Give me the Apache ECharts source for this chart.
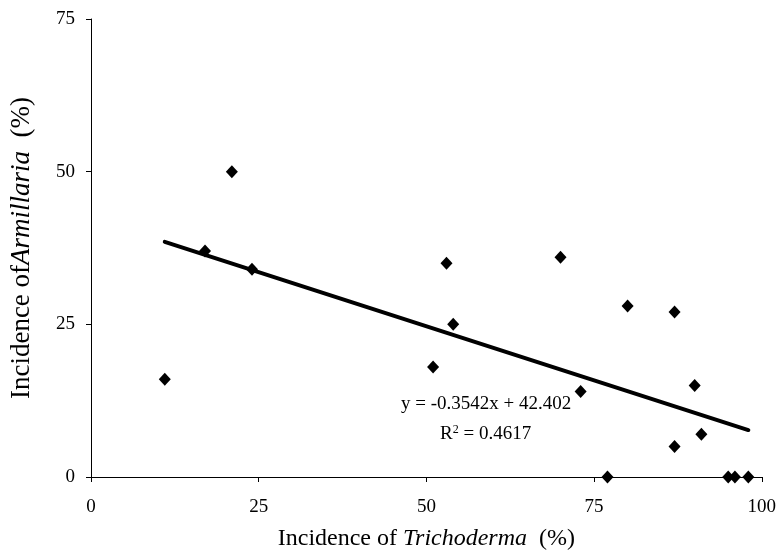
<!DOCTYPE html>
<html>
<head>
<meta charset="utf-8">
<script src="https://cdn.jsdelivr.net/npm/echarts@6/dist/echarts.min.js"></script>
<style>
  html, body { margin: 0; padding: 0; background: #fff; }
  #main { width: 779px; height: 560px; }
</style>
</head>
<body>
<div id="main"></div>
<script>
// Trichoderma incidence (%) vs Armillaria incidence (%)
var trichoderma = [11, 17, 21, 24, 51, 53, 54, 70, 73, 77, 80, 87, 87, 90, 91, 95, 96, 98];
var armillaria  = [16, 37, 50, 34, 18, 35, 25, 36, 14, 0, 28, 27, 5, 15, 7, 0, 0, 0];
var xTicks = [0, 25, 50, 75, 100];
var yTicks = [0, 25, 50, 75];
// linear fit reported on the figure
var slope = -0.3542;
var intercept = 42.402;
var rSquared = 0.4617;

var points = trichoderma.map(function (x, i) { return [x, armillaria[i]]; });
var fitX = [Math.min.apply(null, trichoderma), Math.max.apply(null, trichoderma)];
var fitLine = fitX.map(function (x) { return [x, slope * x + intercept]; });

var font = '"Liberation Serif", "DejaVu Serif", serif';
var chart = echarts.init(document.getElementById('main'));

chart.setOption({
    animation: false,
    backgroundColor: '#fff',
    grid: { left: 89, right: 17, top: 19, bottom: 83 },
    xAxis: {
        type: 'value',
        min: 0, max: 100, interval: 25,
        name: 'Incidence of {i|Trichoderma}  (%)',
        nameLocation: 'middle',
        nameGap: 50,
        nameTextStyle: {
            fontFamily: font, fontSize: 24, color: '#000',
            rich: { i: { fontFamily: font, fontSize: 24, fontStyle: 'italic', color: '#000' } }
        },
        axisLine: { lineStyle: { color: '#000', width: 1 } },
        axisTick: { show: true, length: 5, lineStyle: { color: '#000' } },
        axisLabel: {
            fontFamily: font, fontSize: 19, color: '#000', margin: 21,
            formatter: function (v) { return xTicks.indexOf(v) >= 0 ? v : ''; }
        },
        splitLine: { show: false }
    },
    yAxis: {
        type: 'value',
        min: 0, max: 75, interval: 25,
        name: 'Incidence of{i|Armillaria}  (%)',
        nameLocation: 'middle',
        nameGap: 56,
        nameTextStyle: {
            fontFamily: font, fontSize: 27, color: '#000',
            rich: { i: { fontFamily: font, fontSize: 27, fontStyle: 'italic', color: '#000' } }
        },
        axisLine: { show: true, lineStyle: { color: '#000', width: 1 } },
        axisTick: { show: true, length: 5, lineStyle: { color: '#000' } },
        axisLabel: {
            fontFamily: font, fontSize: 19, color: '#000', margin: 16,
            formatter: function (v) { return yTicks.indexOf(v) >= 0 ? v : ''; }
        },
        splitLine: { show: false }
    },
    graphic: [
        {
            type: 'text', left: 401, top: 395,
            style: { text: 'y = -0.3542x + 42.402', font: '19px ' + font, fill: '#000' }
        },
        {
            type: 'text', left: 440, top: 424,
            style: {
                text: '{a|R}{s|2}{a| = ' + rSquared + '}',
                rich: {
                    a: { fontFamily: font, fontSize: 19, fill: '#000', color: '#000' },
                    s: { fontFamily: font, fontSize: 12, fill: '#000', color: '#000', verticalAlign: 'top', padding: [0, 0, 9, 0] }
                }
            }
        }
    ],
    series: [
        {
            type: 'line',
            data: fitLine,
            symbol: 'none',
            lineStyle: { color: '#000', width: 4, cap: 'round' },
            z: 2
        },
        {
            type: 'scatter',
            data: points,
            symbol: 'diamond',
            symbolSize: [12, 13],
            itemStyle: { color: '#000', opacity: 1 },
            z: 3
        }
    ]
});
</script>
</body>
</html>
